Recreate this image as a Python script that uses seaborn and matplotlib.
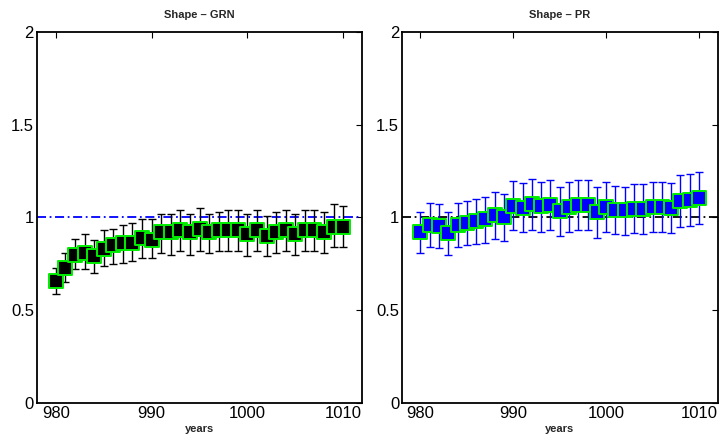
import matplotlib
matplotlib.use("Agg")
import matplotlib.pyplot as plt
import seaborn as sns
import numpy as np
import pandas as pd

years = list(range(980, 1011))

grn_mean = [0.66, 0.73, 0.80, 0.81, 0.79, 0.83, 0.85, 0.86, 0.86, 0.89,
            0.88, 0.92, 0.92, 0.93, 0.92, 0.94, 0.92, 0.93, 0.93, 0.93,
            0.91, 0.93, 0.90, 0.92, 0.93, 0.91, 0.93, 0.93, 0.92, 0.95, 0.95]
grn_low = [0.59, 0.65, 0.72, 0.72, 0.70, 0.74, 0.75, 0.755, 0.765, 0.78,
           0.78, 0.81, 0.80, 0.82, 0.80, 0.82, 0.81, 0.82, 0.82, 0.82,
           0.79, 0.82, 0.79, 0.81, 0.82, 0.80, 0.82, 0.82, 0.81, 0.84, 0.84]
grn_high = [0.73, 0.81, 0.885, 0.91, 0.88, 0.93, 0.94, 0.96, 0.97, 0.99,
            0.99, 1.02, 1.02, 1.04, 1.02, 1.05, 1.02, 1.03, 1.04, 1.04,
            1.02, 1.04, 1.01, 1.03, 1.04, 1.02, 1.04, 1.04, 1.03, 1.07, 1.06]

pr_mean = [0.92, 0.96, 0.955, 0.915, 0.96, 0.97, 0.98, 0.99, 1.013, 1.00,
           1.062, 1.053, 1.07, 1.06, 1.067, 1.035, 1.058, 1.067, 1.065, 1.03,
           1.055, 1.04, 1.04, 1.046, 1.044, 1.058, 1.055, 1.05, 1.09, 1.094, 1.105]
pr_low = [0.81, 0.84, 0.835, 0.80, 0.84, 0.85, 0.857, 0.864, 0.886, 0.875,
          0.93, 0.92, 0.93, 0.92, 0.93, 0.90, 0.92, 0.93, 0.93, 0.89,
          0.92, 0.91, 0.904, 0.915, 0.91, 0.923, 0.92, 0.916, 0.95, 0.954, 0.963]
pr_high = [1.03, 1.08, 1.07, 1.03, 1.08, 1.09, 1.10, 1.11, 1.14, 1.125,
           1.195, 1.186, 1.21, 1.193, 1.20, 1.164, 1.19, 1.20, 1.20, 1.164,
           1.19, 1.17, 1.166, 1.18, 1.18, 1.19, 1.19, 1.184, 1.227, 1.233, 1.243]

titles = ["Shape \u2013 GRN", "Shape \u2013 PR"]
face_colors = ["black", "blue"]
bar_colors = ["black", "blue"]
ref_colors = ["blue", "black"]
xticks = [980, 990, 1000, 1010]
yticks = [0, 0.5, 1, 1.5, 2]
ytick_labels = ["0", "0.5", "1", "1.5", "2"]

sns.set_style("white")
plt.rcParams['font.family'] = ['Liberation Sans', 'DejaVu Sans']

fig = plt.figure(figsize=(7.19, 4.36), dpi=100)
ax1 = fig.add_axes([0.051, 0.0757, 0.453, 0.851])
ax2 = fig.add_axes([0.559, 0.0757, 0.439, 0.851])

series = [(grn_mean, grn_low, grn_high), (pr_mean, pr_low, pr_high)]
for i, ax in enumerate([ax1, ax2]):
    m, lo, hi = series[i]
    df = pd.DataFrame({"year": years, "value": m})
    yerr = np.array([np.array(m) - np.array(lo), np.array(hi) - np.array(m)])
    ax.axhline(1, color=ref_colors[i], linestyle=(0, (5, 2, 1, 2)), linewidth=1.3, zorder=1)
    ax.errorbar(years, m, yerr=yerr, fmt="none", ecolor=bar_colors[i],
                elinewidth=1.0, capsize=3, capthick=1.0, zorder=2)
    sns.scatterplot(data=df, x="year", y="value", ax=ax, marker="s", s=95,
                    color=face_colors[i], edgecolor="#00ee00", linewidth=1.4,
                    zorder=3, legend=False)
    ax.set_xlim(978, 1012)
    ax.set_ylim(0, 2)
    ax.set_xticks(xticks)
    ax.set_xticklabels([str(t) for t in xticks])
    ax.set_yticks(yticks)
    ax.set_yticklabels(ytick_labels)
    ax.tick_params(axis="both", direction="in", length=4, width=0.8,
                   top=True, right=True, labelsize=12, pad=2, colors="black")
    for sp in ax.spines.values():
        sp.set_visible(True)
        sp.set_color("black")
        sp.set_linewidth(1.3)
    ax.set_title(titles[i], fontsize=8, fontweight="bold", pad=10)
    ax.set_xlabel("years", fontsize=8, fontweight="bold", labelpad=2)
    ax.set_ylabel("")

fig.savefig("out.png", dpi=100)
